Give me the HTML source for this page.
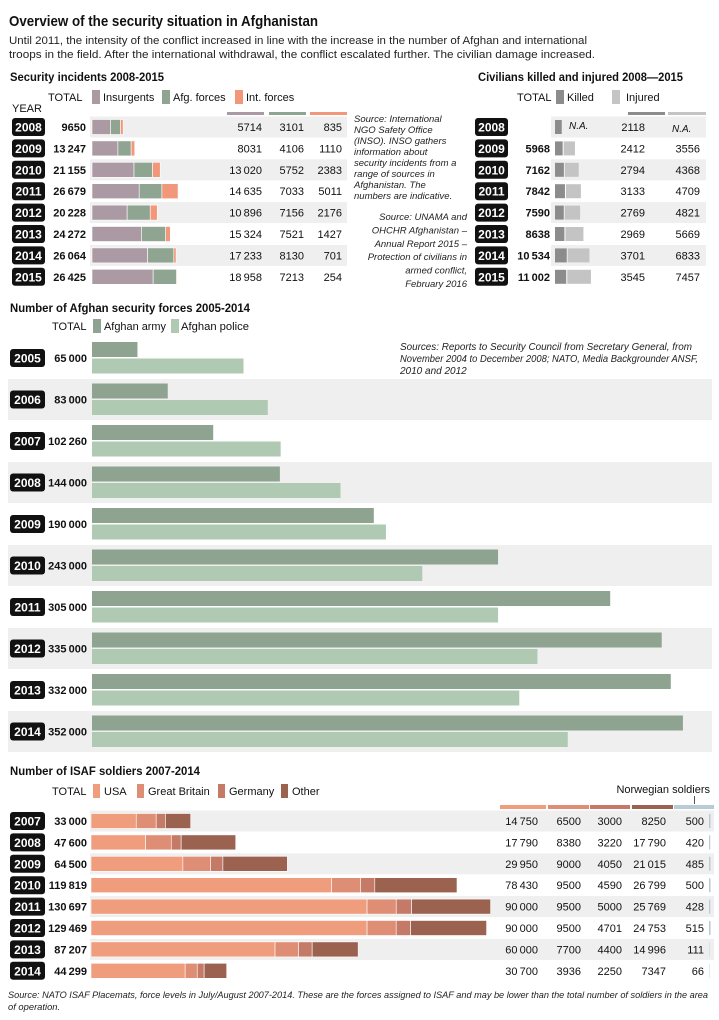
<!DOCTYPE html>
<html><head><meta charset="utf-8"><style>
html,body{margin:0;padding:0;background:#fff;}
svg{display:block;font-family:"Liberation Sans",sans-serif;}
</style></head><body>
<svg id="chart" width="719" height="1020" viewBox="0 0 719 1020" xmlns="http://www.w3.org/2000/svg">
<text x="9" y="26" font-size="15" font-weight="bold" fill="#111" textLength="309" lengthAdjust="spacingAndGlyphs">Overview of the security situation in Afghanistan</text>
<text x="9" y="44" font-size="11" fill="#222" textLength="578" lengthAdjust="spacingAndGlyphs">Until 2011, the intensity of the conflict increased in line with the increase in the number of Afghan and international</text>
<text x="9" y="58" font-size="11" fill="#222" textLength="586" lengthAdjust="spacingAndGlyphs">troops in the field. After the international withdrawal, the conflict escalated further. The civilian damage increased.</text>
</svg>
<script>
// ---- data ----
const incYears=[2008,2009,2010,2011,2012,2013,2014,2015];
const incTotal=[9650,13247,21155,26679,20228,24272,26064,26425];
const incInsurgents=[5714,8031,13020,14635,10896,15324,17233,18958];
const incAfg=[3101,4106,5752,7033,7156,7521,8130,7213];
const incInt=[835,1110,2383,5011,2176,1427,701,254];

const civYears=[2008,2009,2010,2011,2012,2013,2014,2015];
const civTotal=[null,5968,7162,7842,7590,8638,10534,11002];
const civKilled=[2118,2412,2794,3133,2769,2969,3701,3545];
const civInjured=[null,3556,4368,4709,4821,5669,6833,7457];

const afYears=[2005,2006,2007,2008,2009,2010,2011,2012,2013,2014];
const afTotal=[65000,83000,102260,144000,190000,243000,305000,335000,332000,352000];
const afArmy=[15000,25000,40000,62000,93000,134000,171000,188000,191000,195000];
const afPolice=[50000,58000,62260,82000,97000,109000,134000,147000,141000,157000];

const isYears=[2007,2008,2009,2010,2011,2012,2013,2014];
const isTotal=[33000,47600,64500,119819,130697,129469,87207,44299];
const isUSA=[14750,17790,29950,78430,90000,90000,60000,30700];
const isGB=[6500,8380,9000,9500,9500,9500,7700,3936];
const isGer=[3000,3220,4050,4590,5000,4701,4400,2250];
const isOther=[8250,17790,21015,26799,25769,24753,14996,7347];
const isNor=[500,420,485,500,428,515,111,66];

// ---- helpers ----
const NS='http://www.w3.org/2000/svg';
const svg=document.getElementById('chart');
function mk(tag,attrs){const e=document.createElementNS(NS,tag);for(const k in attrs)e.setAttribute(k,attrs[k]);svg.appendChild(e);return e;}
function tx(x,y,s,o){o=o||{};const e=mk('text',{x:x,y:y,'font-size':o.size||11,fill:o.fill||'#111','text-anchor':o.anchor||'start'});if(o.bold)e.setAttribute('font-weight','bold');if(o.italic)e.setAttribute('font-style','italic');if(o.len){e.setAttribute('textLength',o.len);e.setAttribute('lengthAdjust','spacingAndGlyphs');}e.textContent=s;return e;}
function fmt(v){if(v===null)return '';if(v<10000)return String(v);const s=String(v);return s.slice(0,s.length-3)+'\u2009'+s.slice(-3);}
function badge(x,cy,w,year){const r=mk('rect',{x:x,y:cy-9,width:w,height:18,rx:3,fill:'#111'});


const t=tx(x+w/2,cy+4.5,String(year),{anchor:'middle',fill:'#fff',bold:true,size:12});

}
function sw(x,y,w,h,c,name){const r=mk('rect',{x:x,y:y,width:w,height:h,fill:c});

}

const C={ins:'#ab9aa3',afg:'#8fa592',int:'#f2977a',army:'#8ea390',pol:'#afc9b3',kil:'#8c8c8c',inj:'#c4c4c4',usa:'#f09d7d',gb:'#dd8e74',ger:'#c47a66',oth:'#9a624f',nor:'#b8ccd6'};

// ---- Security incidents ----
let t;
t=tx(10,81,'Security incidents 2008-2015',{bold:true,size:12,len:154});


t=tx(48,101,'TOTAL',{size:11});


t=tx(12,112,'YEAR',{size:11});


const incLeg=[['Insurgents',92,C.ins],['Afg. forces',162,C.afg],['Int. forces',235,C.int]];
incLeg.forEach(l=>{sw(l[1],90,8,14,l[2],'legend-swatch-'+l[0].toLowerCase().replace(/[^a-z]+/g,'-'));
const e=tx(l[1]+11,101,l[0],{size:11});

});
[[227,264,C.ins],[269,306,C.afg],[310,347,C.int]].forEach((h,i)=>sw(h[0],112,h[1]-h[0],3,h[2],'column-header-bar-'+i));
const incScale=v=>v/310;
incYears.forEach((y,i)=>{const cy=127+i*21.4;
if(i%2===0){sw(90,cy-10.5,257,21,'#efefef','row-bg-'+y);}
badge(12,cy,33,y);
const e=tx(86,cy+4,fmt(incTotal[i]),{bold:true,anchor:'end',size:11});


let x=92;
[[incInsurgents,C.ins,'insurgents'],[incAfg,C.afg,'afg-forces'],[incInt,C.int,'int-forces']].forEach(s=>{const w=incScale(s[0][i]);
const r=mk('rect',{x:x,y:cy-7.5,width:w,height:15,fill:s[1],stroke:'#fff','stroke-width':0.6});


x+=w;});
[[incInsurgents,262],[incAfg,304],[incInt,342]].forEach((s,j)=>{const v=tx(s[1],cy+4,fmt(s[0][i]),{anchor:'end',size:11});

});
});
const src1=['Source: International','NGO Safety Office','(INSO). INSO gathers','information about','security incidents from a','range of sources in','Afghanistan. The','numbers are indicative.'];
src1.forEach((l,i)=>{const e=tx(354,122+i*11,l,{italic:true,size:9.5,fill:'#222'});

});
const src2=['Source: UNAMA and','OHCHR Afghanistan \u2013','Annual Report 2015 \u2013','Protection of civilians in','armed conflict,','February 2016'];
src2.forEach((l,i)=>{const e=tx(467,220+i*13.4,l,{italic:true,size:9.5,fill:'#222',anchor:'end'});

});

// ---- Civilians ----
t=tx(478,81,'Civilians killed and injured 2008\u20142015',{bold:true,size:12,len:205});


t=tx(517,101,'TOTAL',{size:11});


sw(556,90,8,14,C.kil,'legend-swatch-killed');
t=tx(567,101,'Killed',{size:11});


sw(612,90,8,14,C.inj,'legend-swatch-injured');
t=tx(626,101,'Injured',{size:11});


sw(628,112,37,3,C.kil,'civ-header-bar-killed');
sw(668,112,38,3,C.inj,'civ-header-bar-injured');
const civScale=v=>v/315;
civYears.forEach((y,i)=>{const cy=127+i*21.4;
if(i%2===0){sw(551,cy-10.5,155,21,'#efefef','civ-row-bg-'+y);}
badge(475,cy,33,y);
if(civTotal[i]!==null){const e=tx(550,cy+4,fmt(civTotal[i]),{bold:true,anchor:'end',size:11});

}
let x=555;const wk=civScale(civKilled[i]);
const r=mk('rect',{x:x,y:cy-7,width:wk,height:14,fill:C.kil});


x+=wk+1;
if(civInjured[i]!==null){const r2=mk('rect',{x:x,y:cy-7,width:civScale(civInjured[i]),height:14,fill:C.inj});

}
else{const n=tx(569,cy+2,'N.A.',{italic:true,size:10});

}
const k=tx(645,cy+4,fmt(civKilled[i]),{anchor:'end',size:11});


const j=civInjured[i]===null?tx(672,cy+5,'N.A.',{italic:true,size:10}):tx(700,cy+4,fmt(civInjured[i]),{anchor:'end',size:11});


});

// ---- Afghan forces ----
t=tx(10,312,'Number of Afghan security forces 2005-2014',{bold:true,size:12,len:240});


t=tx(52,330,'TOTAL',{size:11});


sw(93,319,8,14,C.army,'legend-swatch-army');
t=tx(104,330,'Afghan army',{size:11,len:62});


sw(171,319,8,14,C.pol,'legend-swatch-police');
t=tx(181,330,'Afghan police',{size:11,len:68});


['Sources: Reports to Security Council from Secretary General, from','November 2004 to December 2008; NATO, Media Backgrounder ANSF,','2010 and 2012'].forEach((l,i)=>{const e=tx(400,350+i*12,l,{italic:true,size:10,fill:'#222'});
if(i<2){e.setAttribute('textLength',i===0?292:298);e.setAttribute('lengthAdjust','spacingAndGlyphs');}

});
const afScale=v=>v/330;
afYears.forEach((y,i)=>{const cy=358+i*41.5;
if(i%2===1){sw(8,cy-20.5,704,41,'#efefef','af-row-bg-'+y);}
badge(10,cy,35,y);
const e=tx(87,cy+4,fmt(afTotal[i]),{bold:true,anchor:'end',size:11});


const a=mk('rect',{x:92,y:cy-16,width:afScale(afArmy[i]),height:15,fill:C.army});


const p=mk('rect',{x:92,y:cy+0.5,width:afScale(afPolice[i]),height:15,fill:C.pol});


});

// ---- ISAF ----
t=tx(10,775,'Number of ISAF soldiers 2007-2014',{bold:true,size:12,len:190});


t=tx(52,795,'TOTAL',{size:11});


[['USA',93,C.usa],['Great Britain',137,C.gb],['Germany',218,C.ger],['Other',281,C.oth]].forEach(l=>{sw(l[1],784,7,14,l[2],'legend-swatch-'+l[0].toLowerCase().replace(/ /g,'-'));
const e=tx(l[1]+11,795,l[0],{size:11});

});
t=tx(710,793,'Norwegian soldiers',{size:11,anchor:'end'});


sw(694,796,1,8,'#555','norwegian-pointer');
[[500,546,C.usa],[548,589,C.gb],[590,630,C.ger],[632,673,C.oth],[674,714,C.nor]].forEach((h,i)=>sw(h[0],805,h[1]-h[0],4,h[2],'isaf-header-bar-'+i));
const isScale=v=>v/326;
isYears.forEach((y,i)=>{const cy=821+i*21.4;
if(i%2===0){sw(90,cy-10.5,624,21,'#efefef','isaf-row-bg-'+y);}
badge(10,cy,35,y);
const e=tx(87,cy+4,fmt(isTotal[i]),{bold:true,anchor:'end',size:11});


let x=91;
[[isUSA,C.usa,'usa'],[isGB,C.gb,'gb'],[isGer,C.ger,'germany'],[isOther,C.oth,'other']].forEach(s=>{const w=isScale(s[0][i]);
const r=mk('rect',{x:x,y:cy-7.5,width:w,height:15,fill:s[1],stroke:'#fff','stroke-width':0.6});


x+=w;});
[[isUSA,538],[isGB,581],[isGer,622],[isOther,666],[isNor,704]].forEach((s,j)=>{const v=tx(s[1],cy+4,fmt(s[0][i]),{anchor:'end',size:11});

});
const nb=mk('rect',{x:709,y:cy-7,width:Math.max(0.4,isNor[i]/330),height:14,fill:C.nor});


});
['Source: NATO ISAF Placemats, force levels in July/August 2007-2014. These are the forces assigned to ISAF and may be lower than the total number of soldiers in the area','of operation.'].forEach((l,i)=>{const e=tx(8,998+i*12,l,{italic:true,size:9.4,fill:'#222'});
if(i===0){e.setAttribute('textLength',700);e.setAttribute('lengthAdjust','spacingAndGlyphs');}

});
</script>
</body></html>
